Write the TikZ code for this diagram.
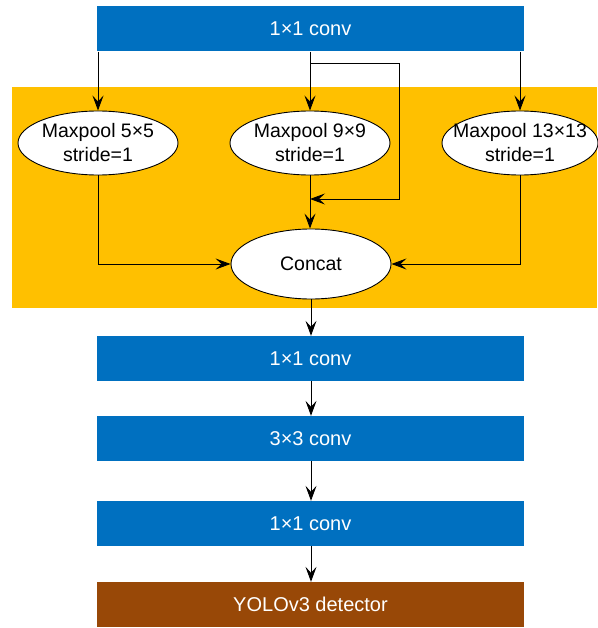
\documentclass[tikz,border=0pt]{standalone}
\usepackage{fontspec}
\setmainfont{Liberation Sans}
\usetikzlibrary{arrows.meta,shapes.geometric}
\definecolor{convblue}{HTML}{0070C0}
\definecolor{sppgold}{HTML}{FFC000}
\definecolor{detbrown}{HTML}{984807}
\tikzset{
        convbox/.style={fill=convblue, text=white, minimum width=427pt, minimum height=45pt, inner sep=0pt},
        poolnode/.style={ellipse, draw, line width=0.9pt, fill=white, minimum width=160pt, minimum height=64pt, inner xsep=-9pt, inner ysep=-2pt, align=center, font=\fontsize{19.5}{24}\selectfont},
        arr/.style={-{Stealth[length=15pt, width=11pt, inset=6pt]}, line width=0.9pt}
}
\begin{document}
\begin{tikzpicture}[x=1pt, y=1pt, font=\fontsize{20}{24}\selectfont]

        \useasboundingbox (0, 0) rectangle (597, -628);
        \fill[sppgold] (12, -87) rectangle (597, -308);

        \node[convbox] (conv1) at (310.5, -29) {1×1 conv};
        \node[poolnode] (mp5) at (98, -143) {Maxpool 5×5\\stride=1};
        \node[poolnode] (mp9) at (310, -143) {Maxpool 9×9\\stride=1};
        \node[poolnode, inner xsep=-12pt, minimum width=156pt] (mp13) at (520, -143) {Maxpool 13×13\\stride=1};
        \node[poolnode, minimum width=160pt, minimum height=70pt] (concat) at (311, -264) {Concat};
        \node[convbox] (conv2) at (310.5, -358.5) {1×1 conv};
        \node[convbox] (conv3) at (310.5, -438.5) {3×3 conv};
        \node[convbox] (conv4) at (310.5, -523.5) {1×1 conv};
        \node[convbox, fill=detbrown] (yolo) at (310.5, -604.5) {YOLOv3 detector};

        \coordinate (split) at (310, -63);
        \coordinate (loop) at (399, -199);

        \draw[arr] (conv1.south -| mp5) -- (mp5.north);
        \draw[arr] (conv1.south -| mp9) -- (mp9.north);
        \draw[arr] (conv1.south -| mp13) -- (mp13.north);
        \draw[arr] (split) -| (loop) -- (loop -| mp9);
        \draw[arr] (mp9.south) -- (mp9.south |- concat.north);
        \draw[arr] (mp5.south) |- (concat.west);
        \draw[arr] (mp13.south) |- (concat.east);
        \draw[arr] (concat.south) -- (concat.south |- conv2.north);
        \draw[arr] (conv2.south -| concat) -- (conv3.north -| concat);
        \draw[arr] (conv3.south -| concat) -- (conv4.north -| concat);
        \draw[arr] (conv4.south -| concat) -- (yolo.north -| concat);

\end{tikzpicture}
\end{document}
